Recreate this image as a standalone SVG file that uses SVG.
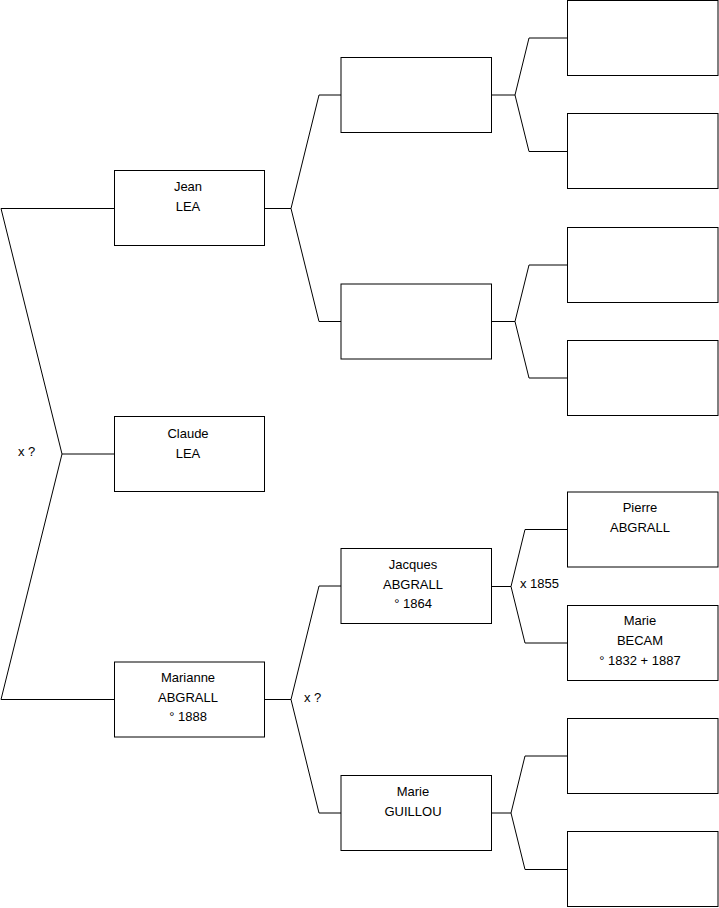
<svg xmlns="http://www.w3.org/2000/svg" width="719" height="908" viewBox="0 0 719 908">
<style>
rect.box{fill:#fff;stroke:#000;stroke-width:1}
.c path{fill:none;stroke:#000;stroke-width:1}
text{font-family:"Liberation Sans",Arial,sans-serif;font-size:13px;fill:#000;text-anchor:middle}
text.l{text-anchor:start}
</style>
<rect width="719" height="908" fill="#fff"/>
<g class="c" id="connectors">
<path d="M1,208.5 H114.5 M1,208.5 L62,454 L1,699.5 H114.5 M62,454 H114.5"/>
<path d="M265,208.5 H291 M319,95 L291,208.5 L319,321.5 M319,95 H341 M319,321.5 H341"/>
<path d="M265,699.5 H291 M319,586 L291,699.5 L319,813 M319,586 H341 M319,813 H341"/>
<path d="M492,95 H515 M529,38 L515,95 L529,151.5 M529,38 H567 M529,151.5 H567"/>
<path d="M492,321.5 H515 M529,265 L515,321.5 L529,378 M529,265 H567 M529,378 H567"/>
<path d="M492,586.5 H511 M525,529.5 L511,586.5 L525,643 M525,529.5 H567 M525,643 H567"/>
<path d="M492,813 H511 M525,756 L511,813 L525,869.5 M525,756 H567 M525,869.5 H567"/>
<text class="l" x="18" y="456">x ?</text>
<text class="l" x="304" y="702">x ?</text>
<text class="l" x="520" y="588">x 1855</text>
</g>
<g id="jean"><rect class="box" x="114.5" y="170.5" width="150" height="75"/><text x="188" y="191">Jean</text><text x="188" y="211">LEA</text></g>
<g id="claude"><rect class="box" x="114.5" y="416.5" width="150" height="75"/><text x="188" y="438">Claude</text><text x="188" y="458">LEA</text></g>
<g id="marianne"><rect class="box" x="114.5" y="662" width="150" height="75"/><text x="188" y="682">Marianne</text><text x="188" y="702">ABGRALL</text><text x="188" y="721">° 1888</text></g>
<g id="f1"><rect class="box" x="341" y="57.5" width="150.5" height="75"/></g>
<g id="m1"><rect class="box" x="341" y="284" width="150.5" height="75"/></g>
<g id="jacques"><rect class="box" x="341" y="548.5" width="150.5" height="75"/><text x="413" y="569">Jacques</text><text x="413" y="589">ABGRALL</text><text x="413" y="608">° 1864</text></g>
<g id="marieguillou"><rect class="box" x="341" y="775.5" width="150.5" height="75"/><text x="413" y="796">Marie</text><text x="413" y="816">GUILLOU</text></g>
<g id="g1"><rect class="box" x="567.5" y="0.5" width="150.5" height="75"/></g>
<g id="g2"><rect class="box" x="567.5" y="113.5" width="150.5" height="75"/></g>
<g id="g3"><rect class="box" x="567.5" y="227.5" width="150.5" height="75"/></g>
<g id="g4"><rect class="box" x="567.5" y="340.5" width="150.5" height="75"/></g>
<g id="pierre"><rect class="box" x="567.5" y="492" width="150.5" height="75"/><text x="640" y="512">Pierre</text><text x="640" y="532">ABGRALL</text></g>
<g id="mariebecam"><rect class="box" x="567.5" y="605.5" width="150.5" height="75"/><text x="640" y="625">Marie</text><text x="640" y="645">BECAM</text><text x="640" y="665">° 1832 + 1887</text></g>
<g id="g7"><rect class="box" x="567.5" y="718.5" width="150.5" height="75"/></g>
<g id="g8"><rect class="box" x="567.5" y="831.5" width="150.5" height="75"/></g>
</svg>
